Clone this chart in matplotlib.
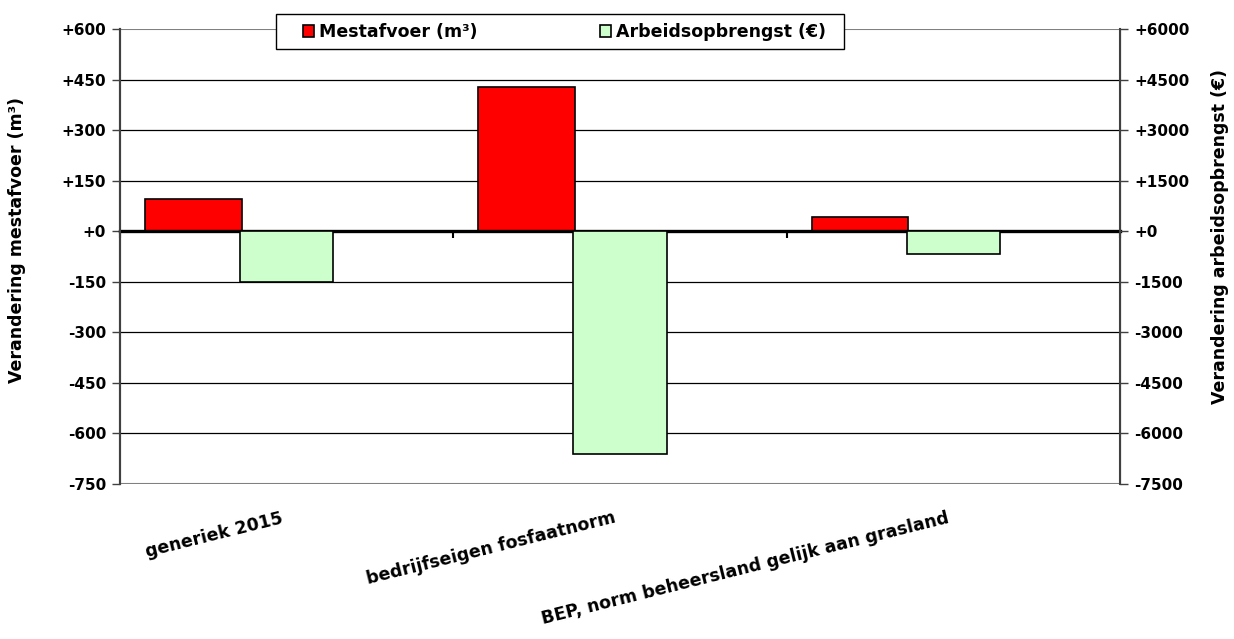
import matplotlib
matplotlib.use("Agg")
import matplotlib.pyplot as plt
from matplotlib.patches import Patch, Rectangle
from matplotlib.transforms import blended_transform_factory, offset_copy
import numpy as np

plt.rcParams["font.family"] = ["DejaVu Sans"]
plt.rcParams["font.weight"] = "bold"

# ---- data ----
categories = ["generiek 2015", "bedrijfseigen fosfaatnorm",
              "BEP, norm beheersland gelijk aan grasland"]
mestafvoer = [95, 428, 42]                 # m3 (left axis)
arbeidsopbrengst = [-1510, -6600, -675]    # euro (right axis)
left_ticks = [600, 450, 300, 150, 0, -150, -300, -450, -600, -750]
right_ticks = [6000, 4500, 3000, 1500, 0, -1500, -3000, -4500, -6000, -7500]

RED, GREEN = "#ff0000", "#ccffcc"
FS = 11      # tick labels
FS_CAT = 12.5
FS_LAB = 12.5

W, H = 1234, 639
fig = plt.figure(figsize=(W / 100, H / 100), dpi=100)
ax = fig.add_axes([120 / W, 1 - 484 / H, 1000 / W, 455 / H])
ax2 = ax.twinx()

x = np.arange(len(categories))
ax.bar(x - 0.28, mestafvoer, width=0.29, color=RED, edgecolor="black", lw=1.2, zorder=3)
ax2.bar(x, arbeidsopbrengst, width=0.28, color=GREEN, edgecolor="black", lw=1.2, zorder=3)

fmt = lambda v: f"+{v}" if v >= 0 else f"{v}"
ax.set_ylim(min(left_ticks), max(left_ticks))
ax2.set_ylim(min(right_ticks), max(right_ticks))
ax.set_xlim(-0.5, len(categories) - 0.5)
ax.set_yticks(left_ticks, [fmt(v) for v in left_ticks], fontsize=FS, fontweight="bold")
ax2.set_yticks(right_ticks, [fmt(v) for v in right_ticks], fontsize=FS, fontweight="bold")

# gridlines (black), outer frame lines grey
for v in left_ticks[1:-1]:
    ax.axhline(v, color="black", lw=0.9, zorder=1)
for v in (left_ticks[0], left_ticks[-1]):
    ax.axhline(v, color="#808080", lw=1.5, zorder=1)

# category axis crosses at zero
ax.spines["bottom"].set_position(("data", 0))
ax.spines["bottom"].set_linewidth(2.4)
ax.spines["bottom"].set_zorder(4)
ax.set_xticks(np.arange(len(categories) + 1) - 0.5, [""] * (len(categories) + 1))
ax.tick_params(axis="x", direction="out", length=5, width=1.5, color="black")
for a in (ax, ax2):
    a.spines["top"].set_visible(False)
for s in ("left", "right"):
    ax2.spines[s].set_color("#404040")
    ax2.spines[s].set_linewidth(1.5)
ax.spines["left"].set_color("#404040")
ax.spines["left"].set_linewidth(1.5)
ax2.spines["bottom"].set_visible(False)
ax.tick_params(axis="y", length=6, width=1, color="#404040", pad=4)
ax2.tick_params(axis="y", length=6, width=1, color="#404040", pad=4)

# rotated category labels below the plot
tr = offset_copy(blended_transform_factory(ax.transData, ax.transAxes), fig=fig, y=-25, units="dots")
for xi, lab in zip(x, categories):
    ax.text(xi - 0.02, 0, lab, transform=tr, rotation=14, rotation_mode="anchor",
            ha="right", va="top", fontsize=FS_CAT, fontweight="bold")

fig.text(17 / W, 1 - 240 / H, "Verandering mestafvoer (m³)", rotation=90,
         ha="center", va="center", fontsize=FS_LAB, fontweight="bold")
fig.text(1220 / W, 1 - 237 / H, "Verandering arbeidsopbrengst (€)", rotation=90,
         ha="center", va="center", fontsize=FS_LAB, fontweight="bold")

# legend box straddling the top of the plot
fig.add_artist(Rectangle((276 / W, 1 - 49 / H), 568 / W, 35 / H, transform=fig.transFigure,
                         facecolor="white", edgecolor="black", lw=1.0, zorder=8))
handles = [Patch(facecolor=RED, edgecolor="black", lw=1.2),
           Patch(facecolor=GREEN, edgecolor="black", lw=1.2)]
leg = fig.legend(handles, ["Mestafvoer (m³)", "Arbeidsopbrengst (€)"], ncol=2,
                 loc="center left", bbox_to_anchor=(303 / W, 1 - 32 / H),
                 prop={"size": 12.5, "weight": "bold"}, frameon=False,
                 handlelength=0.65, handleheight=0.65, handletextpad=0.3,
                 columnspacing=7.0, borderpad=0, borderaxespad=0)
leg.set_zorder(10)

fig.savefig("out.png", dpi=100)
